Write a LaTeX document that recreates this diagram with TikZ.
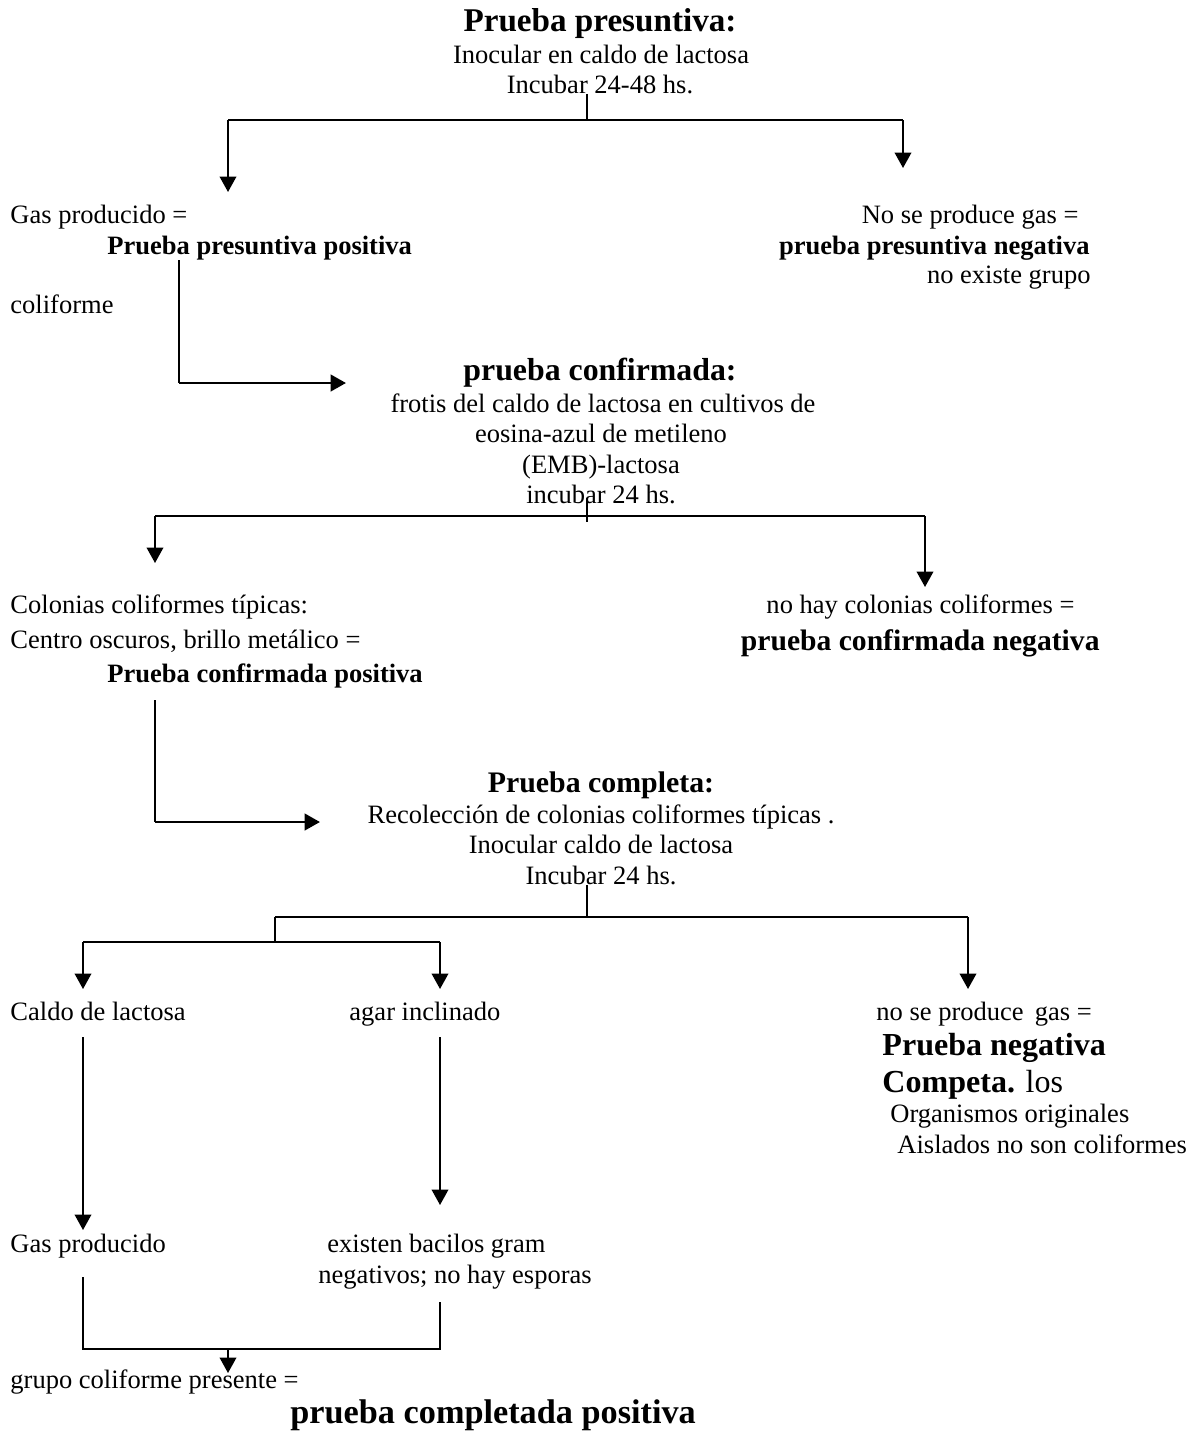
\documentclass[tikz,border=0pt]{standalone}
\usepackage{fontspec}
\setmainfont{Liberation Serif}
\usetikzlibrary{arrows.meta}
\begin{document}
\begin{tikzpicture}[x=0.4525pt, y=-0.4525pt, >={Triangle[length=7pt,width=7.5pt]},
  font=\fontsize{12}{14}\selectfont, inner sep=0pt, line join=miter,
  txt/.style={anchor=base west},
  ctr/.style={anchor=base},
  rgt/.style={anchor=base east},
  bld/.style={font=\fontsize{12}{14}\selectfont\bfseries},
  big/.style={font=\fontsize{#1}{17}\selectfont\bfseries},
  big/.default=14,
  stem/.style={line width=0.5pt},
  bar/.style={line width=0.9pt},
  fl/.style={line width=0.9pt, ->},
  hfl/.style={line width=1.3pt, ->}]
\useasboundingbox (0,0) rectangle (1197,1432);
% Prueba presuntiva
\node[ctr, big=15] (pres) at (600,31) {Prueba presuntiva:};
\node[ctr] (presA) at (601,63) {Inocular en caldo de lactosa};
\node[ctr] (presB) at (600,93) {Incubar 24-48 hs.};
\coordinate (j1) at (587,120);
\coordinate (j1l) at (228,120); \coordinate (j1r) at (903,120);
\coordinate (e1l) at (228,192); \coordinate (e1r) at (903,168);
\draw[stem] (presB.south -| j1) -- (j1);
\draw[bar] (j1l) -- (j1r);
\draw[fl] (j1l) -- (e1l);
\draw[fl] (j1r) -- (e1r);
\node[txt] (gasA) at (10,223) {Gas producido =};
\node[txt, bld] (presPos) at (107,254) {Prueba presuntiva positiva};
\node[rgt] (noGasA) at (1079,223) {No se produce gas =};
\node[rgt, bld] (presNeg) at (1090,254) {prueba presuntiva negativa};
\node[rgt] (noGrupo) at (1091,283) {no existe grupo};
\node[txt] (colif) at (10,313) {coliforme};
% prueba confirmada
\node[ctr, big=14.4] (conf) at (600,380) {prueba confirmada:};
\node[ctr] (confA) at (603,412) {frotis del caldo de lactosa en cultivos de};
\node[ctr] (confB) at (601,442) {eosina-azul de metileno};
\node[ctr] (confC) at (601,473) {(EMB)-lactosa};
\node[ctr] (confD) at (601,503) {incubar 24 hs.};
\coordinate (k1) at (179,383); \coordinate (k1e) at (346,383);
\draw[stem] (presPos.south -| k1) -- (k1);
\draw[hfl] (k1) -- (k1e);
\coordinate (j2) at (587,516);
\coordinate (j2l) at (155,516); \coordinate (j2r) at (925,516);
\coordinate (e2l) at (155,563); \coordinate (e2r) at (925,587);
\draw[stem] (587,498) -- (587,522);
\draw[bar] (j2l) -- (j2r);
\draw[fl] (j2l) -- (e2l);
\draw[fl] (j2r) -- (e2r);
\node[txt] (colTip) at (10,613) {Colonias coliformes típicas:};
\node[txt] (centro) at (10,648) {Centro oscuros, brillo metálico =};
\node[txt, bld] (confPos) at (107,682) {Prueba confirmada positiva};
\node[rgt] (noCol) at (1075,613) {no hay colonias coliformes =};
\node[rgt, big=13.4] (confNeg) at (1100,650) {prueba confirmada negativa};
% Prueba completa
\node[ctr, big=13.5] (comp) at (601,792) {Prueba completa:};
\node[ctr] (compA) at (601,823) {Recolección de colonias coliformes típicas .};
\node[ctr] (compB) at (601,853) {Inocular caldo de lactosa};
\node[ctr] (compC) at (601,884) {Incubar 24 hs.};
\coordinate (k2) at (155,822); \coordinate (k2e) at (320,822);
\draw[stem] (155,700) -- (k2);
\draw[hfl] (k2) -- (k2e);
\coordinate (j3) at (587,917);
\coordinate (j3l) at (275,917); \coordinate (j3r) at (968,917);
\coordinate (j4) at (275,942);
\coordinate (j4l) at (83,942); \coordinate (j4r) at (440,942);
\draw[stem] (compC.south -| j3) -- (j3);
\draw[bar] (j3l) -- (j3r);
\draw[stem] (j3l) -- (j4);
\draw[bar] (j4l) -- (j4r);
\draw[fl] (j4l) -- (83,989);
\draw[fl] (j4r) -- (440,989);
\draw[fl] (j3r) -- (968,989);
\node[txt] (caldo) at (10,1020) {Caldo de lactosa};
\node[txt] (agar) at (349,1020) {agar inclinado};
\node[txt] (noGasB) at (876,1020) {no se produce\, gas =};
\node[txt, big=14.5] (compNeg) at (882,1055) {Prueba negativa};
\node[txt, font=\fontsize{14.5}{17}\selectfont] (competa) at (882,1092) {\textbf{Competa.} los};
\node[txt] (orgA) at (890,1122) {Organismos originales};
\node[txt] (orgB) at (897,1153) {Aislados no son coliformes};
\coordinate (e5l) at (83,1230); \coordinate (e5r) at (440,1205);
\draw[fl] (83,1037) -- (e5l);
\draw[fl] (440,1037) -- (e5r);
\node[txt] (gasB) at (10,1252) {Gas producido};
\node[txt] (bacA) at (327,1252) {existen bacilos gram};
\node[txt] (bacB) at (318,1283) {negativos; no hay esporas};
\coordinate (j5l) at (83,1349); \coordinate (j5r) at (440,1349);
\coordinate (j5) at (228,1349);
\draw[stem, line width=0.7pt] (83,1277) -- (j5l) -- (j5r) -- (440,1302);
\draw[fl] (j5) -- (228,1373);
\node[txt] (grupo) at (10,1388) {grupo coliforme presente =};
\node[txt, big=15.5] (compPos) at (290,1423) {prueba completada positiva};
\end{tikzpicture}
\end{document}
